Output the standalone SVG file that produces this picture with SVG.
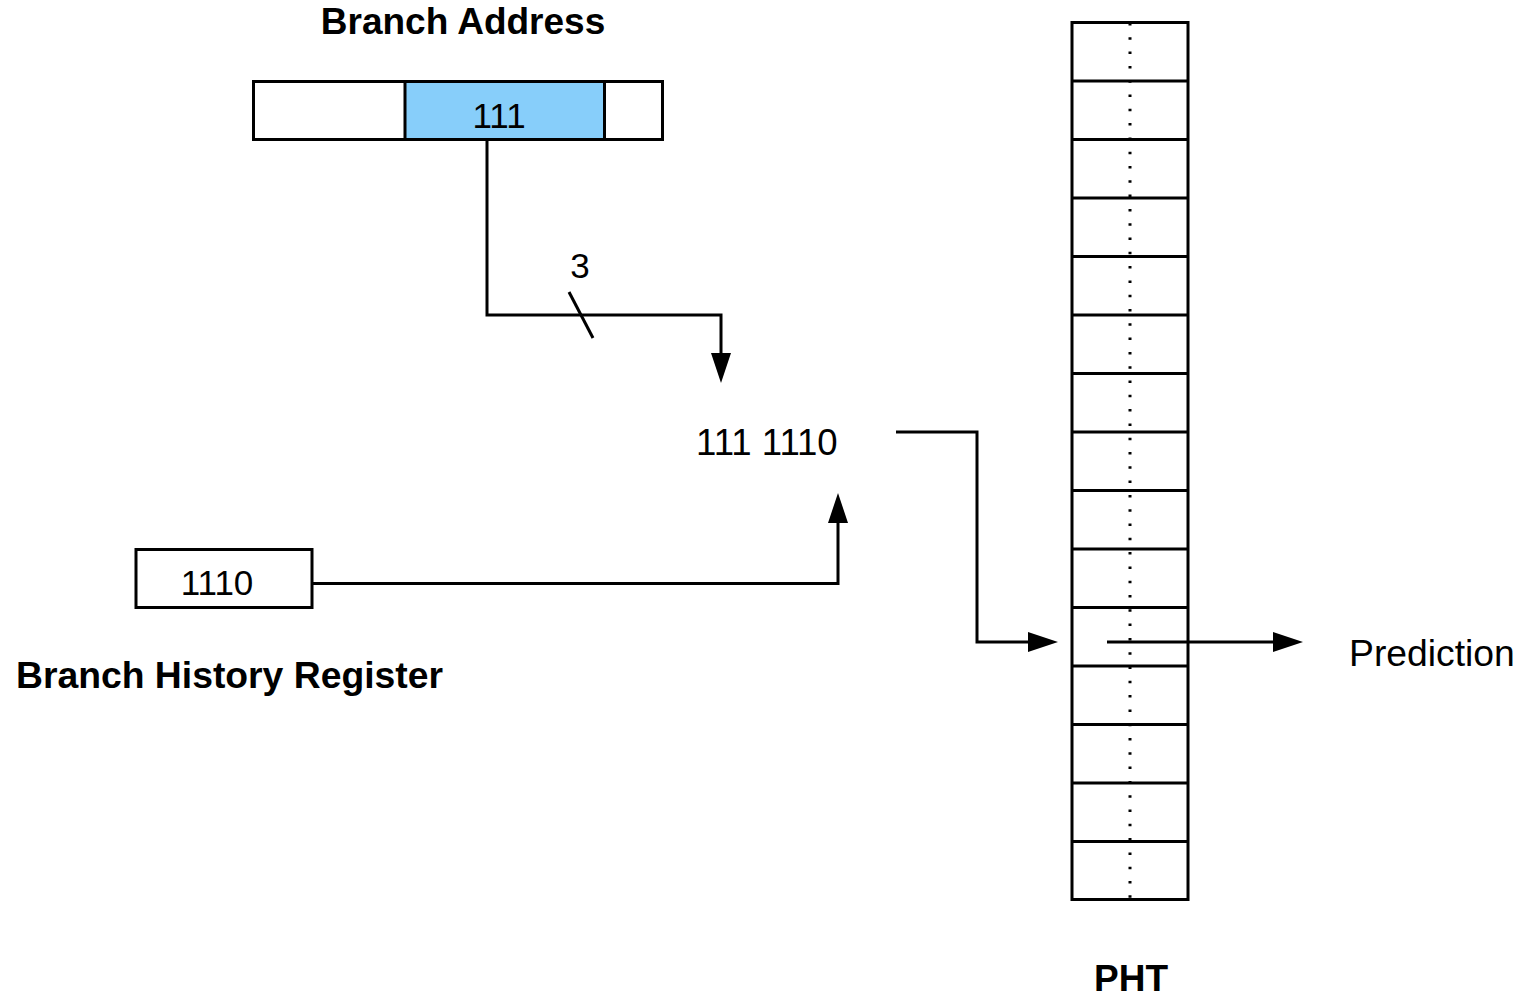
<svg xmlns="http://www.w3.org/2000/svg" width="1524" height="997" viewBox="0 0 1524 997">
  <style>
    .box { fill: #ffffff; stroke: #000000; stroke-width: 3; }
    .hl { fill: #87cefa; stroke: #000000; stroke-width: 3; }
    .wire { fill: none; stroke: #000000; stroke-width: 3; }
    .head { fill: #000000; stroke: none; }
    .txt { font-family: "Liberation Sans", Arial, sans-serif; font-size: 35px; fill: #000000; }
    .title { font-family: "Liberation Sans", Arial, sans-serif; font-size: 37px; font-weight: bold; fill: #000000; }
  </style>
  <rect width="1524" height="997" fill="#ffffff"/>

  <!-- Branch address register -->
  <g id="branch-address">
    <text class="title" x="463" y="34" text-anchor="middle">Branch Address</text>
    <rect class="box" x="253.5" y="81.5" width="409" height="58"/>
    <rect class="hl" x="405" y="81.5" width="199.5" height="58"/>
    <text class="txt" x="499" y="128" text-anchor="middle">111</text>
  </g>

  <!-- Branch history register -->
  <g id="bhr">
    <rect class="box" x="136" y="549.5" width="176" height="58"/>
    <text class="txt" x="217" y="595" text-anchor="middle">1110</text>
    <text class="title" x="16" y="688" style="font-size:37.3px">Branch History Register</text>
  </g>

  <!-- Concatenated index -->
  <g id="index">
    <text class="txt" x="696" y="455" style="font-size:36.6px">111 1110</text>
  </g>

  <!-- Pattern history table -->
  <g id="pht">
    <rect class="box" x="1072" y="22.5" width="116" height="877"/>
    <path class="wire" d="M1072 81H1188M1072 139.5H1188M1072 198H1188M1072 256.5H1188M1072 315H1188M1072 373.5H1188M1072 432H1188M1072 490.5H1188M1072 549H1188M1072 607.5H1188M1072 666H1188M1072 724.5H1188M1072 783H1188M1072 841.5H1188"/>
    <line x1="1130" y1="23" x2="1130" y2="899" stroke="#000000" stroke-width="3" stroke-dasharray="2.5 11.8"/>
    <text class="title" x="1131" y="991" text-anchor="middle">PHT</text>
  </g>

  <!-- Prediction output label -->
  <g id="prediction">
    <text class="txt" x="1349" y="666" style="font-size:37.3px">Prediction</text>
  </g>

  <!-- Connectors -->
  <g id="connectors">
    <!-- 3 address bits to index -->
    <polyline class="wire" points="487,140 487,315 721,315 721,356"/>
    <polygon class="head" points="711,353 731,353 721,383"/>
    <line class="wire" x1="569" y1="292" x2="593" y2="338"/>
    <text class="txt" x="580" y="278" text-anchor="middle">3</text>

    <!-- history bits to index -->
    <polyline class="wire" points="312,583.5 838,583.5 838,520"/>
    <polygon class="head" points="828,523 848,523 838,493"/>

    <!-- index into table -->
    <polyline class="wire" points="896,432 977,432 977,642 1031,642"/>
    <polygon class="head" points="1028,632 1028,652 1058,642"/>

    <!-- table entry out to prediction -->
    <line class="wire" x1="1107" y1="642" x2="1276" y2="642"/>
    <polygon class="head" points="1273,632 1273,652 1303,642"/>
  </g>
</svg>
